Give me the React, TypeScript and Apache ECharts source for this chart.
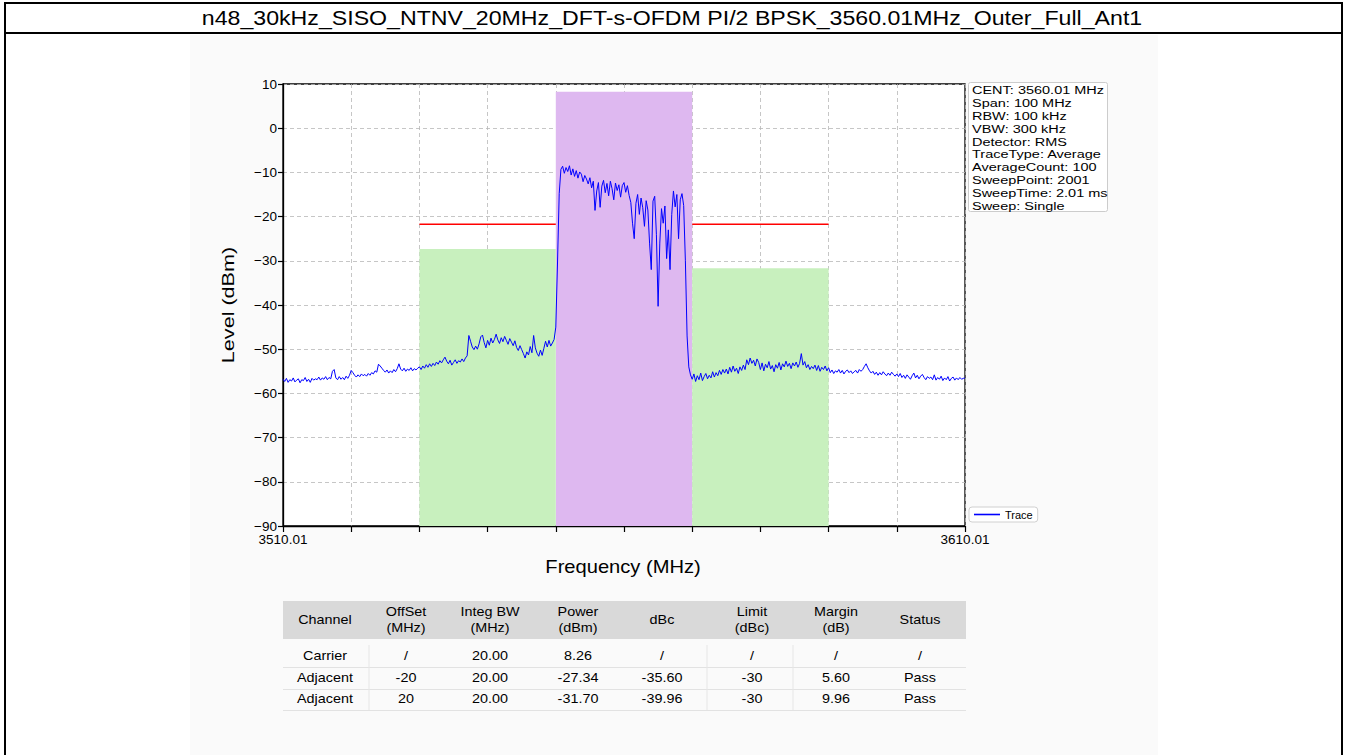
import React, { useEffect, useRef } from 'react';
import * as echarts from 'echarts';

const TITLE = 'n48_30kHz_SISO_NTNV_20MHz_DFT-s-OFDM PI/2 BPSK_3560.01MHz_Outer_Full_Ant1';
const FREQ_START = 3510.01;
const FREQ_STOP = 3610.01;
const CENTER_FREQ = 3560.01;
const X_TICK_STEP = 10;
const Y_MIN = -90;
const Y_MAX = 10;
const Y_STEP = 10;
const TRACE_STEP = 0.25;

// Trace level (dBm), one value every 0.25 MHz from 3510.01 MHz
const TRACE_LEVELS = [
  -56.8, -57.3, -56.6, -57.5, -56.9, -57.2, -56.5, -57.4, -57.0, -56.7, -57.6, -56.9, -57.1, -56.4, -57.3, -56.8, -57.5, -56.6, -57.0, -56.7,
  -56.9, -56.3, -57.0, -56.5, -56.8, -56.2, -56.9, -56.4, -56.7, -55.0, -54.6, -56.5, -56.9, -56.2, -56.8, -56.4, -56.9, -56.1, -56.6, -55.9,
  -54.8, -55.3, -55.9, -56.3, -55.8, -56.2, -55.6, -56.0, -55.7, -56.1, -55.5, -55.9, -55.3, -55.6, -54.9, -55.2, -53.4, -53.8, -54.3, -54.8,
  -55.2, -54.7, -55.4, -54.9, -55.3, -54.6, -55.1, -54.4, -53.3, -54.5, -54.9, -54.3, -55.0, -54.5, -54.8, -54.2, -54.9, -54.4, -54.7, -54.3,
  -54.0, -54.6, -53.8, -54.3, -53.5, -54.1, -53.3, -53.9, -53.2, -53.7, -52.9, -53.4, -52.6, -53.1, -52.4, -51.8, -52.7, -53.3, -52.5, -53.6,
  -53.0, -52.4, -53.2, -52.6, -52.9, -52.2, -52.8, -52.0, -51.5, -46.9, -48.2, -49.5, -50.1, -49.3, -50.0, -48.8, -47.2, -46.8, -48.5, -49.7,
  -48.0, -49.1, -47.5, -48.6, -47.8, -46.6, -47.9, -48.7, -47.4, -48.3, -47.1, -48.0, -48.9, -47.6, -48.4, -49.2, -48.1, -49.6, -50.3, -49.2,
  -50.1, -51.0, -52.0, -50.6, -51.3, -49.4, -50.8, -46.9, -49.7, -50.9, -51.6, -50.2, -51.4, -49.8, -48.2, -49.5, -48.0, -49.3, -48.6, -47.8,
  -45.0, -30.5, -14.8, -9.3, -8.6, -10.2, -8.9, -9.8, -8.5, -10.6, -9.2, -10.9, -9.6, -11.3, -9.9, -10.4, -12.1, -10.7, -11.5, -12.6,
  -11.2, -13.5, -12.0, -18.6, -14.2, -12.3, -17.9, -13.1, -11.8, -14.6, -12.5, -15.3, -12.0, -13.7, -16.2, -12.4, -14.1, -12.8, -15.6, -13.0,
  -12.3, -14.5, -13.0, -15.2, -16.8, -21.5, -25.0, -17.0, -15.0, -19.5, -15.8, -18.0, -22.2, -16.4, -18.5, -26.0, -32.0, -16.5, -15.4, -24.0,
  -40.3, -26.0, -18.2, -21.5, -17.6, -29.5, -23.0, -32.0, -19.5, -14.2, -17.8, -15.0, -25.0, -16.2, -14.8, -17.5, -30.0, -47.0, -54.0, -55.8,
  -56.8, -55.6, -57.3, -56.0, -56.9, -55.4, -57.1, -56.2, -55.5, -56.7, -55.9, -56.5, -55.1, -56.3, -55.3, -56.0, -54.8, -55.7, -54.6, -55.4,
  -54.5, -55.6, -54.1, -55.2, -53.8, -55.0, -54.3, -55.5, -54.0, -54.8, -53.6, -54.6, -52.4, -53.5, -52.0, -53.2, -52.5, -53.8, -52.2, -53.0,
  -54.6, -53.1, -54.9, -53.4, -54.2, -52.8, -54.5, -53.7, -55.1, -53.5, -54.3, -53.0, -54.7, -53.3, -54.0, -52.7, -53.9, -53.2, -54.4, -53.1,
  -53.8, -52.9, -54.1, -53.2, -51.0, -53.6, -52.8, -54.2, -53.5, -54.6, -53.9, -54.4, -53.6, -54.8, -53.7, -55.0, -54.1, -54.6, -53.8, -54.9,
  -54.2, -55.3, -54.7, -55.5, -54.9, -55.2, -54.6, -55.4, -54.8, -55.6, -55.0, -54.7, -55.3, -54.9, -55.5, -55.1, -54.8, -55.4, -54.6, -55.0,
  -54.6, -53.9, -53.3, -54.2, -54.9, -55.4, -55.0, -55.7, -55.2, -55.9, -55.3, -55.8, -55.1, -55.6, -56.0, -55.4, -55.9, -55.2, -55.7, -56.1,
  -55.6, -56.2, -55.5, -56.4, -55.9, -56.6, -55.8, -56.3, -56.8, -56.0, -55.4, -56.5, -55.9, -56.7, -56.1, -55.7, -56.4, -56.9, -56.2, -56.6,
  -56.3, -56.9, -55.8, -57.0, -56.4, -56.8, -56.1, -57.1, -56.5, -56.9, -56.2, -57.2, -56.6, -56.3, -57.0, -56.5, -56.9, -56.4, -56.8, -56.6,
  -56.5,
];

// Channel table
const CHANNEL_NAMES = ['Carrier', 'Adjacent', 'Adjacent'];
const CHANNEL_OFFSETS = [0, -20, 20];
const OFFSET_LABELS = ['/', '-20', '20'];
const INTEG_BW = [20, 20, 20];
const CHANNEL_POWER = [8.26, -27.34, -31.7];
const DBC_LABELS = ['/', '-35.60', '-39.96'];
const LIMIT_DBC = [null, -30, -30];
const MARGIN_LABELS = ['/', '5.60', '9.96'];
const STATUS_LABELS = ['/', 'Pass', 'Pass'];
const TABLE_HEADERS = ['Channel', 'OffSet\n(MHz)', 'Integ BW\n(MHz)', 'Power\n(dBm)', 'dBc', 'Limit\n(dBc)', 'Margin\n(dB)', 'Status'];

const INFO_LINES = [
  'CENT: 3560.01 MHz',
  'Span: 100 MHz',
  'RBW: 100 kHz',
  'VBW: 300 kHz',
  'Detector: RMS',
  'TraceType: Average',
  'AverageCount: 100',
  'SweepPoint: 2001',
  'SweepTime: 2.01 ms',
  'Sweep: Single',
];

const FONT = '"Liberation Sans", Arial, Helvetica, sans-serif';
const GREEN = '#c8f0be';
const PURPLE = '#deb8f0';

const GRID = { left: 283, top: 84, width: 682, height: 442 };
const TABLE_COL_X = [325, 406, 490, 578, 662, 752, 836, 920];
const TABLE_ROW_Y = [656, 678, 699];

function txt(x: number, y: number, text: string, size: number, o: any = {}) {
  const align = o.align || 'center';
  return {
    type: 'text',
    x,
    y,
    scaleX: o.scaleX ?? 1,
    rotation: o.rotation ?? 0,
    z: 100,
    silent: true,
    style: {
      text,
      x: 0,
      y: 0,
      fill: o.color || '#000',
      fontSize: size,
      fontFamily: FONT,
      align,
      textAlign: align,
      verticalAlign: 'middle',
      textVerticalAlign: 'middle',
      lineHeight: o.lineHeight,
    },
  };
}

function line(x1: number, y1: number, x2: number, y2: number, stroke: string, w: number) {
  return { type: 'line', z: 100, silent: true, shape: { x1, y1, x2, y2 }, style: { stroke, lineWidth: w } };
}

function buildOption() {
  const carrierPower = CHANNEL_POWER[0];
  const bands = CHANNEL_OFFSETS.map((off, i) => [
    CENTER_FREQ + off - INTEG_BW[i] / 2 - FREQ_START,
    CENTER_FREQ + off + INTEG_BW[i] / 2 - FREQ_START,
    CHANNEL_POWER[i],
    i === 0 ? 1 : 0,
  ]);
  const limits = CHANNEL_OFFSETS.map((off, i) => (LIMIT_DBC[i] == null ? null : [
    CENTER_FREQ + off - INTEG_BW[i] / 2 - FREQ_START,
    CENTER_FREQ + off + INTEG_BW[i] / 2 - FREQ_START,
    carrierPower + (LIMIT_DBC[i] as number),
  ])).filter(Boolean);
  const trace = TRACE_LEVELS.map((v, i) => [i * TRACE_STEP, v]);

  const elements: any[] = [];
  // frame and title
  elements.push(line(4, 3, 1343, 3, '#000', 2));
  elements.push(line(4, 33, 1343, 33, '#000', 2));
  elements.push(line(5, 3, 5, 755, '#000', 2));
  elements.push(line(1342, 3, 1342, 755, '#000', 2));
  elements.push(txt(672, 18, TITLE, 20, { scaleX: 1.158 }));

  // axis names
  elements.push(txt(228, 305, 'Level (dBm)', 17, { rotation: Math.PI / 2, scaleX: 1.27 }));
  elements.push(txt(623, 567, 'Frequency (MHz)', 17.5, { scaleX: 1.15 }));

  // info box
  elements.push({ type: 'rect', z: 99, silent: true, shape: { x: 968.5, y: 82.5, width: 139, height: 129, r: 2 }, style: { fill: '#fff', stroke: '#cccccc', lineWidth: 1 } });
  INFO_LINES.forEach((t, i) => {
    elements.push(txt(972, 90 + i * 12.9, t, 11.5, { align: 'left', scaleX: 1.26 }));
  });

  // table
  elements.push({ type: 'rect', z: 99, silent: true, shape: { x: 283, y: 601, width: 683, height: 38 }, style: { fill: '#d9d9d9' } });
  TABLE_HEADERS.forEach((h, c) => {
    elements.push(txt(TABLE_COL_X[c], 620, h, 12.5, { scaleX: 1.15, lineHeight: 16 }));
  });
  CHANNEL_NAMES.forEach((name, r) => {
    const cells = [
      name,
      OFFSET_LABELS[r],
      INTEG_BW[r].toFixed(2),
      CHANNEL_POWER[r].toFixed(2),
      DBC_LABELS[r],
      LIMIT_DBC[r] == null ? '/' : String(LIMIT_DBC[r]),
      MARGIN_LABELS[r],
      STATUS_LABELS[r],
    ];
    cells.forEach((c, ci) => elements.push(txt(TABLE_COL_X[ci], TABLE_ROW_Y[r], c, 12.5, { scaleX: 1.15 })));
    elements.push(line(283, TABLE_ROW_Y[r] + 11.5, 966, TABLE_ROW_Y[r] + 11.5, '#e2e2e2', 1));
  });
  [369, 707, 793].forEach((x) => elements.push(line(x, 645, x, 710, '#e6e6e6', 1)));

  return {
    animation: false,
    backgroundColor: 'transparent',
    textStyle: { fontFamily: FONT },
    grid: { ...GRID, show: true, backgroundColor: '#ffffff', borderColor: '#000', borderWidth: 1.3, containLabel: false },
    legend: {
      data: [{ name: 'Trace', icon: 'rect' }],
      left: 969,
      top: 507,
      orient: 'vertical',
      itemWidth: 26,
      itemHeight: 1.6,
      padding: [2, 5, 2, 5],
      backgroundColor: '#fff',
      borderColor: '#d0d0d0',
      borderWidth: 1,
      borderRadius: 3,
      textStyle: { fontSize: 11, color: '#000', fontFamily: FONT },
      selectedMode: false,
    },
    xAxis: {
      type: 'value',
      min: 0,
      max: FREQ_STOP - FREQ_START,
      interval: X_TICK_STEP,
      axisLine: { show: true, onZero: false, lineStyle: { color: '#000', width: 1.3 } },
      axisTick: { show: true, length: 6, lineStyle: { color: '#000', width: 1.2 } },
      axisLabel: {
        fontSize: 13.5,
        color: '#000',
        margin: 6,
        fontFamily: FONT,
        formatter: (v: number) => (Math.abs(v) < 1e-6 || Math.abs(v - (FREQ_STOP - FREQ_START)) < 1e-6 ? (FREQ_START + v).toFixed(2) : ''),
      },
      splitLine: { show: true, lineStyle: { color: '#b8b8b8', type: [4, 3], width: 0.8 } },
    },
    yAxis: {
      type: 'value',
      min: Y_MIN,
      max: Y_MAX,
      interval: Y_STEP,
      axisLine: { show: true, onZero: false, lineStyle: { color: '#000', width: 1.3 } },
      axisTick: { show: true, length: 5, lineStyle: { color: '#000', width: 1.2 } },
      axisLabel: {
        fontSize: 13.5,
        color: '#000',
        margin: 6,
        fontFamily: FONT,
        formatter: (v: number) => String(v).replace('-', '\u2212'),
      },
      splitLine: { show: true, lineStyle: { color: '#b8b8b8', type: [4, 3], width: 0.8 } },
    },
    series: [
      {
        type: 'custom',
        name: 'Bands',
        silent: true,
        data: bands,
        encode: { x: [0, 1], y: 2 },
        renderItem: (params: any, api: any) => {
          const p0 = api.coord([api.value(0), api.value(2)]);
          const p1 = api.coord([api.value(1), Y_MIN]);
          return {
            type: 'rect',
            shape: { x: p0[0], y: p0[1], width: p1[0] - p0[0], height: p1[1] - p0[1] },
            style: { fill: api.value(3) === 1 ? PURPLE : GREEN },
          };
        },
      },
      {
        type: 'custom',
        name: 'Limit',
        silent: true,
        data: limits,
        encode: { x: [0, 1], y: 2 },
        renderItem: (params: any, api: any) => {
          const p0 = api.coord([api.value(0), api.value(2)]);
          const p1 = api.coord([api.value(1), api.value(2)]);
          return {
            type: 'line',
            shape: { x1: p0[0], y1: p0[1], x2: p1[0], y2: p1[1] },
            style: { stroke: '#ff0000', lineWidth: 1.5 },
          };
        },
      },
      {
        type: 'line',
        name: 'Trace',
        data: trace,
        showSymbol: false,
        symbol: 'none',
        silent: true,
        color: '#0000ff',
        itemStyle: { color: '#0000ff' },
        lineStyle: { color: '#0000ff', width: 1 },
      },
    ],
    graphic: { elements },
  };
}

export default function App() {
  const ref = useRef<HTMLDivElement>(null);
  useEffect(() => {
    if (!ref.current) return;
    const chart = echarts.init(ref.current, undefined, { renderer: 'svg' });
    chart.setOption(buildOption() as any);
    return () => chart.dispose();
  }, []);
  return (
    <div style={{ position: 'absolute', left: 0, top: 0, width: 1345, height: 755, background: '#ffffff', overflow: 'hidden' }}>
      <div style={{ position: 'absolute', left: 190, top: 35, width: 968, height: 720, background: '#fafafa' }} />
      <div ref={ref} style={{ position: 'absolute', left: 0, top: 0, width: 1345, height: 755 }} />
    </div>
  );
}
